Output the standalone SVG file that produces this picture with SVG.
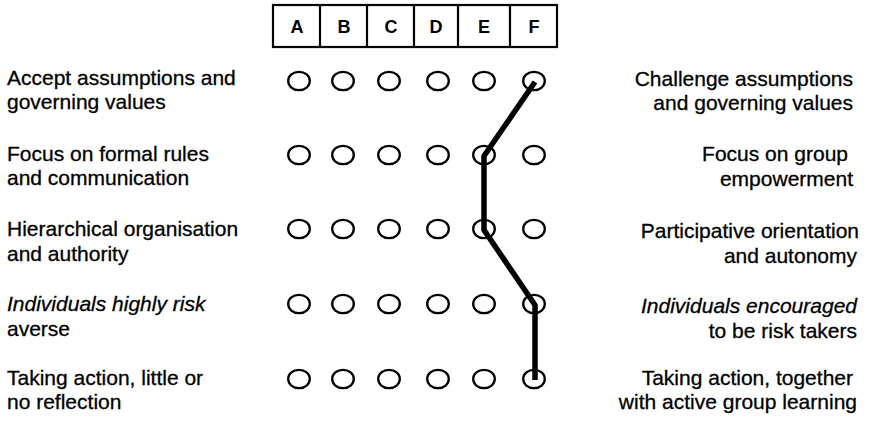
<svg xmlns="http://www.w3.org/2000/svg" width="872" height="424" viewBox="0 0 872 424">
  <style>
    .lbl { font-family: "Liberation Sans", Arial, sans-serif; font-size: 21px; fill: #000; stroke: #000; stroke-width: 0.3; }
    .r { text-anchor: end; }
    .it { font-style: italic; }
    .hdr { font-family: "Liberation Sans", Arial, sans-serif; font-size: 18px; font-weight: bold; text-anchor: middle; fill: #000; }
    .dot { fill: none; stroke: #000; stroke-width: 2.3; }
    .frame { fill: #fff; stroke: #000; stroke-width: 2.2; }
    .profile { fill: none; stroke: #000; stroke-width: 5.5; stroke-linejoin: round; stroke-linecap: butt; }
  </style>

  <!-- scale header A..F -->
  <g id="scale-header">
    <rect class="frame" x="273" y="5" width="284" height="42"/>
    <path d="M320 5V47M367 5V47M414 5V47M458 5V47M510 5V47" stroke="#000" stroke-width="2.2" fill="none"/>
    <text class="hdr" x="297" y="33">A</text>
    <text class="hdr" x="344" y="33">B</text>
    <text class="hdr" x="391" y="33">C</text>
    <text class="hdr" x="436" y="33">D</text>
    <text class="hdr" x="484" y="33">E</text>
    <text class="hdr" x="534" y="33">F</text>
  </g>

  <!-- row 1 -->
  <g id="row-1">
    <text class="lbl" x="7" y="85">Accept assumptions and</text>
    <text class="lbl" x="7" y="109">governing values</text>
    <ellipse class="dot" cx="299" cy="81" rx="10.8" ry="9.2"/>
    <ellipse class="dot" cx="343" cy="81" rx="10.8" ry="9.2"/>
    <ellipse class="dot" cx="389" cy="81" rx="10.8" ry="9.2"/>
    <ellipse class="dot" cx="438" cy="81" rx="10.8" ry="9.2"/>
    <ellipse class="dot" cx="484" cy="81" rx="10.8" ry="9.2"/>
    <ellipse class="dot" cx="534" cy="81" rx="10.8" ry="9.2"/>
    <text class="lbl r" x="853" y="86">Challenge assumptions</text>
    <text class="lbl r" x="853" y="110">and governing values</text>
  </g>

  <!-- row 2 -->
  <g id="row-2">
    <text class="lbl" x="7" y="161">Focus on formal rules</text>
    <text class="lbl" x="7" y="185">and communication</text>
    <ellipse class="dot" cx="299" cy="155" rx="10.8" ry="9.2"/>
    <ellipse class="dot" cx="343" cy="155" rx="10.8" ry="9.2"/>
    <ellipse class="dot" cx="389" cy="155" rx="10.8" ry="9.2"/>
    <ellipse class="dot" cx="438" cy="155" rx="10.8" ry="9.2"/>
    <ellipse class="dot" cx="484" cy="155" rx="10.8" ry="9.2"/>
    <ellipse class="dot" cx="534" cy="155" rx="10.8" ry="9.2"/>
    <text class="lbl r" x="848" y="161">Focus on group</text>
    <text class="lbl r" x="853" y="186">empowerment</text>
  </g>

  <!-- row 3 -->
  <g id="row-3">
    <text class="lbl" x="7" y="236">Hierarchical organisation</text>
    <text class="lbl" x="7" y="261">and authority</text>
    <ellipse class="dot" cx="299" cy="229" rx="10.8" ry="9.2"/>
    <ellipse class="dot" cx="343" cy="229" rx="10.8" ry="9.2"/>
    <ellipse class="dot" cx="389" cy="229" rx="10.8" ry="9.2"/>
    <ellipse class="dot" cx="438" cy="229" rx="10.8" ry="9.2"/>
    <ellipse class="dot" cx="484" cy="229" rx="10.8" ry="9.2"/>
    <ellipse class="dot" cx="534" cy="229" rx="10.8" ry="9.2"/>
    <text class="lbl r" x="859" y="238">Participative orientation</text>
    <text class="lbl r" x="857" y="263">and autonomy</text>
  </g>

  <!-- row 4 -->
  <g id="row-4">
    <text class="lbl it" x="7" y="311">Individuals highly risk</text>
    <text class="lbl" x="7" y="336">averse</text>
    <ellipse class="dot" cx="299" cy="304" rx="10.8" ry="9.2"/>
    <ellipse class="dot" cx="343" cy="304" rx="10.8" ry="9.2"/>
    <ellipse class="dot" cx="389" cy="304" rx="10.8" ry="9.2"/>
    <ellipse class="dot" cx="438" cy="304" rx="10.8" ry="9.2"/>
    <ellipse class="dot" cx="484" cy="304" rx="10.8" ry="9.2"/>
    <ellipse class="dot" cx="534" cy="304" rx="10.8" ry="9.2"/>
    <text class="lbl r it" x="857" y="313">Individuals encouraged</text>
    <text class="lbl r" x="857" y="338">to be risk takers</text>
  </g>

  <!-- row 5 -->
  <g id="row-5">
    <text class="lbl" x="7" y="385">Taking action, little or</text>
    <text class="lbl" x="7" y="409">no reflection</text>
    <ellipse class="dot" cx="299" cy="379" rx="10.8" ry="9.2"/>
    <ellipse class="dot" cx="343" cy="379" rx="10.8" ry="9.2"/>
    <ellipse class="dot" cx="389" cy="379" rx="10.8" ry="9.2"/>
    <ellipse class="dot" cx="438" cy="379" rx="10.8" ry="9.2"/>
    <ellipse class="dot" cx="484" cy="379" rx="10.8" ry="9.2"/>
    <ellipse class="dot" cx="534" cy="379" rx="10.8" ry="9.2"/>
    <text class="lbl r" x="853" y="385">Taking action, together</text>
    <text class="lbl r" x="857" y="409">with active group learning</text>
  </g>

  <!-- profile line joining the chosen ratings -->
  <g id="connectors">
    <polyline class="profile" points="535,82 484,156 484,230 535,305 535,380"/>
  </g>
</svg>
